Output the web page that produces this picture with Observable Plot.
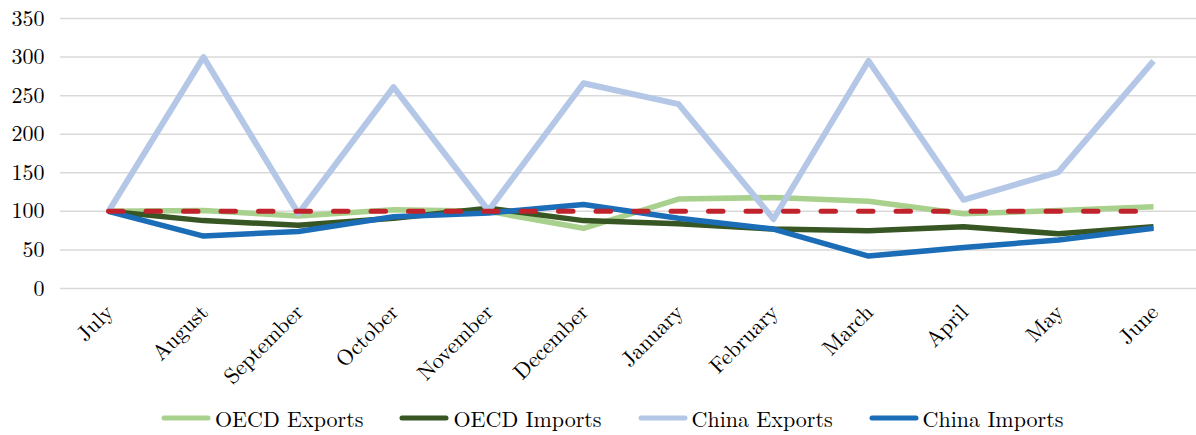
<!DOCTYPE html>
<html>
<head>
<meta charset="utf-8">
<script src="https://cdn.jsdelivr.net/npm/d3@7"></script>
<script src="https://cdn.jsdelivr.net/npm/@observablehq/plot@0.6"></script>
<style>
  body { margin: 0; background: #fff; }
  #chart svg { display: block; overflow: visible; }
</style>
</head>
<body>
<div id="chart"></div>
<div id="legend" style="display:flex;align-items:center;height:50px;box-sizing:border-box;padding-top:15px;padding-left:161px;font-family:'Latin Modern Roman','Liberation Serif',serif;font-size:22px;color:#000;"></div>
<script>
const FONT = "'Latin Modern Roman', 'Liberation Serif', serif";
const months = ["July","August","September","October","November","December","January","February","March","April","May","June"];
const oecdExports  = [100,101,94,102,100,78,116,118,113,97,101,106];
const oecdImports  = [100,88,82,91,104,88,84,77,75,80,71,80];
const chinaExports = [100,300,97,261,101,266,239,90,295,115,151,295];
const chinaImports = [100,68,74,93,98,109,91,77,42,53,63,78];
const baseline     = [100,100,100,100,100,100,100,100,100,100,100,100];
const yTicks = [0,50,100,150,200,250,300,350];

const seriesNames = ["OECD Exports","OECD Imports","China Exports","China Imports"];
const seriesValues = [oecdExports, oecdImports, chinaExports, chinaImports];
const seriesColors = ["#A9D18E","#375623","#B4C7E7","#1A6DB6"];
const seriesWidths = [5.5, 5.5, 6, 5.5];

const rows = (vals) => months.map((m, i) => ({month: m, value: vals[i]}));

const marks = [
  Plot.ruleY(yTicks, {stroke: "#D9D9D9", strokeWidth: 1.5}),
  Plot.axisY(yTicks, {tickSize: 0, tickPadding: 16, fontSize: 22, fontFamily: FONT, fill: "#000", label: null}),
  Plot.axisX({tickSize: 0, tickRotate: -45, tickPadding: 6, dx: 1, dy: 14, fontSize: 22, fontFamily: FONT, fill: "#000", label: null})
];
seriesValues.forEach((vals, k) => {
  marks.push(Plot.line(rows(vals), {x: "month", y: "value", stroke: seriesColors[k], strokeWidth: seriesWidths[k], strokeLinejoin: "round", strokeLinecap: "butt"}));
});
marks.push(Plot.line(rows(baseline), {x: "month", y: "value", stroke: "#C0232C", strokeWidth: 5, strokeDasharray: "14.5,23", strokeLinecap: "round"}));

const chart = Plot.plot({
  width: 1196,
  height: 385,
  marginTop: 18,
  marginBottom: 97,
  marginLeft: 60,
  marginRight: 0,
  style: {fontFamily: FONT, fontSize: "22px", color: "#000", background: "#fff", overflow: "visible"},
  x: {type: "point", domain: months, range: [60, 1200], padding: 0.5, label: null, axis: null},
  y: {domain: [0, 350], label: null, axis: null},
  marks
});
document.getElementById("chart").appendChild(chart);

const legend = document.getElementById("legend");
seriesNames.forEach((name, k) => {
  const item = document.createElement("div");
  item.style.cssText = "display:flex;align-items:center;margin-right:36px;";
  item.innerHTML = `<svg width="50" height="10" style="margin-right:4px"><line x1="3" y1="5" x2="47" y2="5" stroke="${seriesColors[k]}" stroke-width="5" stroke-linecap="round"/></svg><span style="font-family:${FONT.replace(/'/g, '&quot;')}">${name}</span>`;
  legend.appendChild(item);
});
</script>
</body>
</html>
